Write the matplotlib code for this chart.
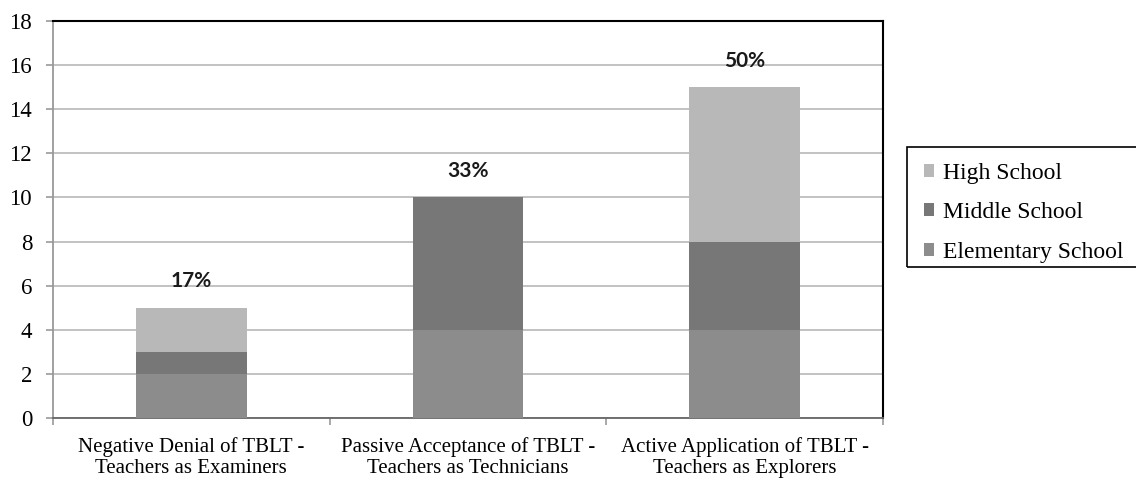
import matplotlib.pyplot as plt
import numpy as np
from matplotlib.patches import Rectangle
from matplotlib.ticker import FixedLocator, NullFormatter

# ----------------------------- data ------------------------------------ #
categories = [
    "Negative Denial of TBLT -\nTeachers as Examiners",
    "Passive Acceptance of TBLT -\nTeachers as Technicians",
    "Active Application of TBLT -\nTeachers as Explorers",
]
elementary = [2, 4, 4]
middle = [1, 6, 4]
high = [2, 0, 7]
pct_labels = ["17%", "33%", "50%"]

# --------------------------- plot --------------------------- #
W, H = 1136, 479
fig = plt.figure(figsize=(W / 100, H / 100), dpi=100)
ax = fig.add_axes([53 / W, 1 - 418 / H, 830 / W, 397 / H])

x = np.arange(len(categories))
w = 0.4
elem = np.array(elementary)
mid = np.array(middle)
hi = np.array(high)

ax.bar(x, elem, w, color="#8c8c8c", label="Elementary School", zorder=3)
ax.bar(x, mid, w, bottom=elem, color="#777777", label="Middle School", zorder=3)
ax.bar(x, hi, w, bottom=elem + mid, color="#b8b8b8", label="High School", zorder=3)

totals = elem + mid + hi
for xi, t, lab in zip(x, totals, pct_labels):
    ax.text(xi, t + 1.2, lab, ha="center", va="center", fontsize=15,
            fontweight="bold", family="Lato", color="#1a1a1a", zorder=4)

ax.set_xlim(-0.5, 2.5)
ax.set_ylim(0, 18)
ax.set_yticks(range(0, 19, 2))
ax.yaxis.grid(True, color="#bdbdbd", linewidth=1.3, zorder=0)
ax.set_axisbelow(True)

ax.set_xticks(x)
ax.set_xticklabels(categories, family="Liberation Serif", fontsize=15, linespacing=1.15)
ax.tick_params(axis="x", which="major", length=0, pad=14)
ax.xaxis.set_minor_locator(FixedLocator([-0.5, 0.5, 1.5, 2.5]))
ax.xaxis.set_minor_formatter(NullFormatter())
ax.tick_params(axis="x", which="minor", length=5, color="#999999", width=1.2)
ax.tick_params(axis="y", length=5, color="#999999", width=1.2, pad=10)
for t in ax.get_yticklabels():
    t.set_family("Liberation Serif")
    t.set_fontsize(16.5)

ax.spines["left"].set_color("#999999")
ax.spines["left"].set_linewidth(1.3)
ax.spines["bottom"].set_color("#666666")
ax.spines["bottom"].set_linewidth(1.3)
ax.spines["top"].set_color("black")
ax.spines["top"].set_linewidth(1.5)
ax.spines["right"].set_color("black")
ax.spines["right"].set_linewidth(1.5)

# legend: entries without frame, box drawn separately (runs off the right edge)
handles, labels = ax.get_legend_handles_labels()
fig.legend(handles[::-1], labels[::-1], loc="upper left",
           bbox_to_anchor=(912 / W, 1 - 151 / H),
           prop={"family": "Liberation Serif", "size": 17},
           frameon=False,
           handlelength=0.45, handleheight=0.45, handletextpad=0.35,
           labelspacing=0.78, borderpad=0.5, borderaxespad=0)
fig.patches.append(Rectangle((907 / W, 1 - 267 / H), 240 / W, 120 / H,
                             transform=fig.transFigure, fill=False,
                             edgecolor="black", linewidth=1.2))

fig.savefig("out.png", dpi=100)
